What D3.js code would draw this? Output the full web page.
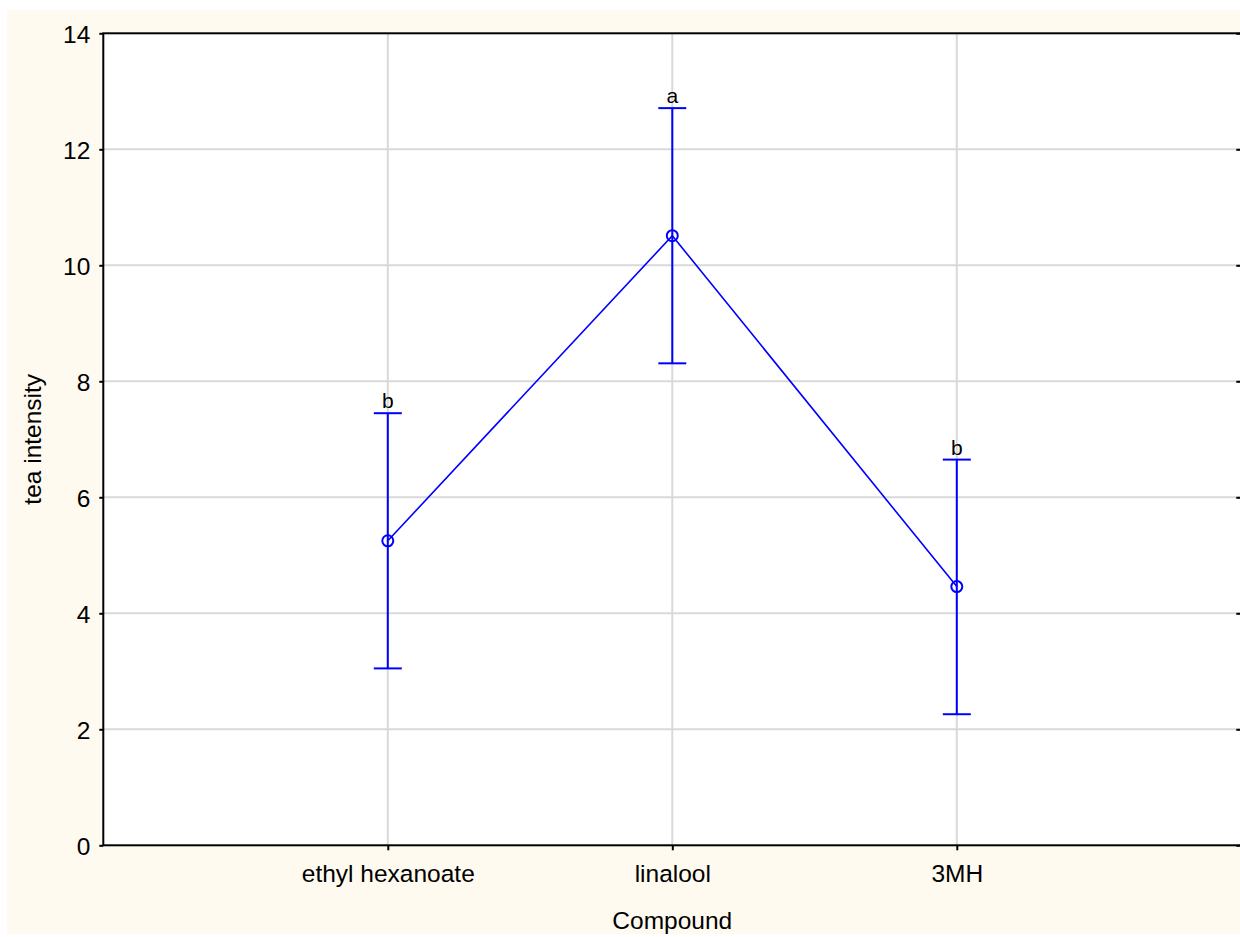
<!DOCTYPE html>
<html>
<head>
<meta charset="utf-8">
<script src="https://cdn.jsdelivr.net/npm/d3@7"></script>
<style>
  html, body { margin: 0; padding: 0; background: #ffffff; }
  svg { display: block; }
  text { font-family: Arial, "Liberation Sans", sans-serif; fill: #000; }
</style>
</head>
<body>
<svg id="chart" width="1240" height="937"></svg>
<script>
// Mean tea intensity per compound with error limits and significance letters
const categories = ["ethyl hexanoate", "linalool", "3MH"];
const means      = [5.25, 10.51, 4.46];
const lowerLimit = [3.05, 8.31, 2.26];
const upperLimit = [7.45, 12.71, 6.65];
const groupLetters = ["b", "a", "b"];
const yTicks = [0, 2, 4, 6, 8, 10, 12, 14];
const xTitle = "Compound";
const yTitle = "tea intensity";

const svg = d3.select("#chart");
const W = 1240, H = 937;
const plot = { left: 103.3, right: 1241.3, top: 33.3, bottom: 845.3 };

// outer panel
svg.append("rect")
  .attr("x", 7).attr("y", 10).attr("width", W - 7).attr("height", 924)
  .attr("fill", "#fffaf0");
svg.append("rect")
  .attr("x", plot.left).attr("y", plot.top)
  .attr("width", plot.right - plot.left).attr("height", plot.bottom - plot.top)
  .attr("fill", "#ffffff");

const x = d3.scalePoint().domain(categories).range([plot.left, plot.right]).padding(1);
const y = d3.scaleLinear().domain([0, 14]).range([plot.bottom, plot.top]);

// grid
const grid = svg.append("g").attr("stroke", "#d9d9d9").attr("stroke-width", 2);
grid.selectAll("line.h").data(yTicks.slice(1, -1)).join("line")
  .attr("x1", plot.left).attr("x2", plot.right)
  .attr("y1", d => y(d)).attr("y2", d => y(d));
grid.selectAll("line.v").data(categories).join("line")
  .attr("x1", d => x(d)).attr("x2", d => x(d))
  .attr("y1", plot.top).attr("y2", plot.bottom);

// axes
const fs = "24.5px";
const yAxis = svg.append("g")
  .attr("transform", `translate(${plot.left},0)`)
  .call(d3.axisLeft(y).tickValues(yTicks).tickSize(4).tickPadding(9).tickFormat(d3.format("d")));
yAxis.select(".domain").remove();
yAxis.selectAll("text").style("font-size", fs).attr("dy", "0.36em");
yAxis.selectAll("line").attr("stroke-width", 2);

const yAxisR = svg.append("g")
  .attr("transform", `translate(${plot.right},0)`)
  .call(d3.axisLeft(y).tickValues(yTicks).tickSize(5).tickFormat(""));
yAxisR.select(".domain").remove();
yAxisR.selectAll("line").attr("stroke-width", 2);

const xAxis = svg.append("g")
  .attr("transform", `translate(0,${plot.bottom})`)
  .call(d3.axisBottom(x).tickSize(5).tickPadding(14));
xAxis.select(".domain").remove();
xAxis.selectAll("text").style("font-size", fs).attr("dy", "0.71em");
xAxis.selectAll("line").attr("stroke-width", 2);

// frame
svg.append("rect")
  .attr("x", plot.left).attr("y", plot.top)
  .attr("width", plot.right - plot.left).attr("height", plot.bottom - plot.top)
  .attr("fill", "none").attr("stroke", "#000").attr("stroke-width", 2);

// titles
svg.append("text")
  .attr("x", (plot.left + plot.right) / 2).attr("y", 929)
  .attr("text-anchor", "middle").style("font-size", fs).text(xTitle);
svg.append("text")
  .attr("transform", `translate(41,${(plot.top + plot.bottom) / 2}) rotate(-90)`)
  .attr("text-anchor", "middle").style("font-size", fs).text(yTitle);

// series
const rows = categories.map((c, i) => ({
  c, m: means[i], lo: lowerLimit[i], hi: upperLimit[i], letter: groupLetters[i]
}));
const blue = "#0000ff";
const series = svg.append("g");

series.append("path")
  .datum(rows)
  .attr("fill", "none").attr("stroke", blue).attr("stroke-width", 1.6)
  .attr("d", d3.line().x(d => x(d.c)).y(d => y(d.m)));

const eb = series.selectAll("g.eb").data(rows).join("g")
  .attr("stroke", blue).attr("stroke-width", 2);
eb.append("line")
  .attr("x1", d => x(d.c)).attr("x2", d => x(d.c))
  .attr("y1", d => y(d.lo)).attr("y2", d => y(d.hi));
eb.append("line")
  .attr("x1", d => x(d.c) - 14).attr("x2", d => x(d.c) + 14)
  .attr("y1", d => y(d.hi)).attr("y2", d => y(d.hi));
eb.append("line")
  .attr("x1", d => x(d.c) - 14).attr("x2", d => x(d.c) + 14)
  .attr("y1", d => y(d.lo)).attr("y2", d => y(d.lo));

series.selectAll("circle").data(rows).join("circle")
  .attr("cx", d => x(d.c)).attr("cy", d => y(d.m)).attr("r", 5.5)
  .attr("fill", "none").attr("stroke", blue).attr("stroke-width", 2);

series.selectAll("text.letter").data(rows).join("text")
  .attr("class", "letter")
  .attr("x", d => x(d.c)).attr("y", d => y(d.hi) - 5)
  .attr("text-anchor", "middle").style("font-size", "21px")
  .text(d => d.letter);
</script>
</body>
</html>
